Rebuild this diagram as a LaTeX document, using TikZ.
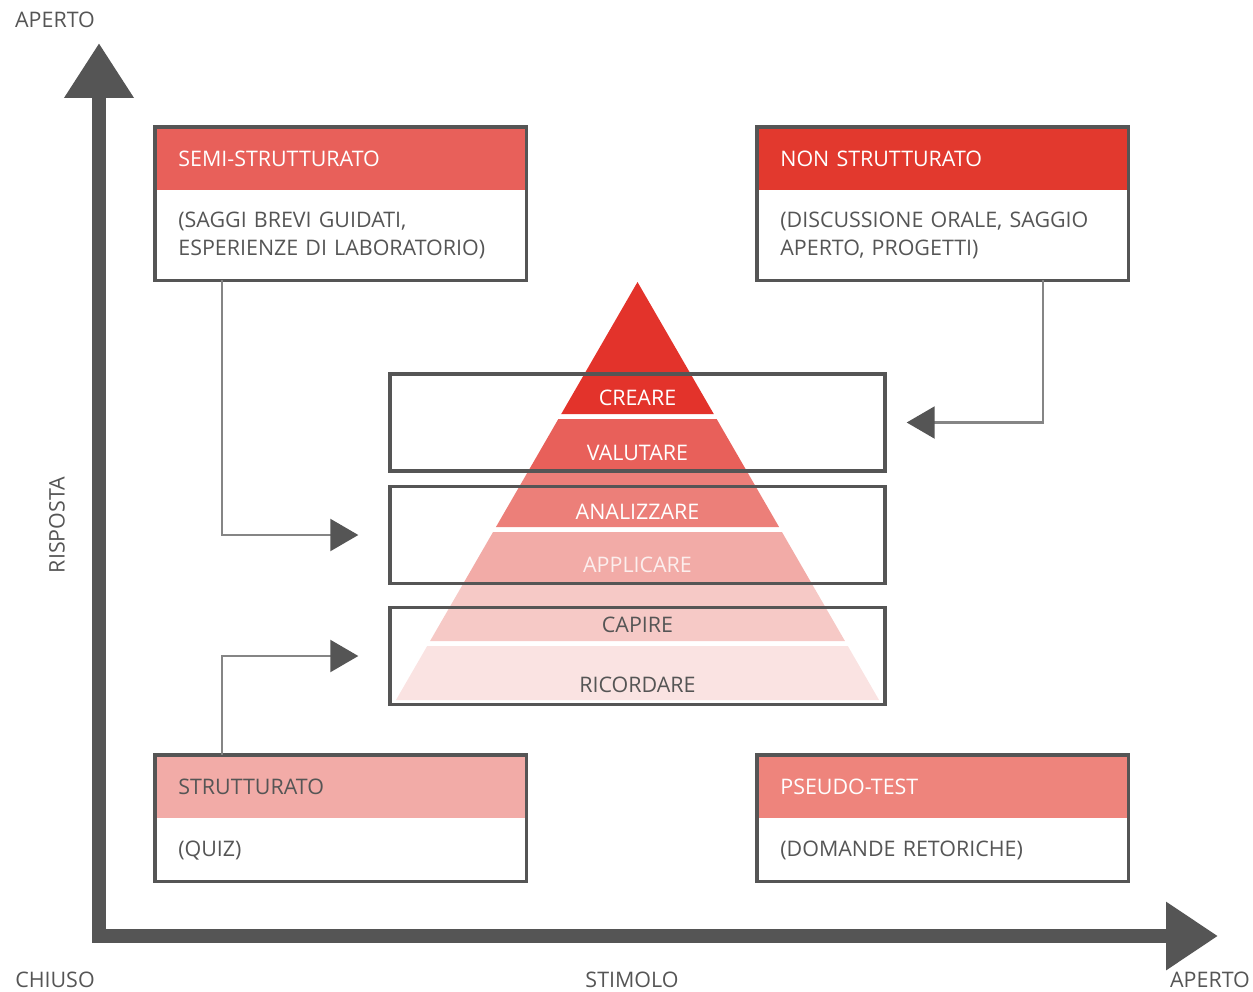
\documentclass[tikz,border=0pt]{standalone}
\usepackage{fontspec}
\setmainfont{Open Sans}
\usepackage{tikz}
\usetikzlibrary{arrows.meta, positioning, calc}

\definecolor{axisgray}{HTML}{555555}
\definecolor{linegray}{HTML}{858585}
\definecolor{textgray}{HTML}{555555}
\definecolor{creC}{HTML}{E3332B}
\definecolor{valC}{HTML}{E8605A}
\definecolor{anaC}{HTML}{EC7F79}
\definecolor{appC}{HTML}{F2ABA7}
\definecolor{capC}{HTML}{F6C9C6}
\definecolor{ricC}{HTML}{FAE3E2}
\definecolor{nonC}{HTML}{E2392E}
\definecolor{pseC}{HTML}{EE847C}

\begin{document}
\begin{tikzpicture}[x=0.02cm, y=-0.02cm, node distance=0pt,
    font=\fontsize{12.2}{16}\selectfont,
    head/.style={rectangle, anchor=north west, text width=6.5cm, inner xsep=0.46cm,
        inner ysep=0pt, minimum height=1.26cm, align=left, text=white},
    body/.style={rectangle, text width=6.5cm, inner xsep=0.46cm, inner ysep=0pt,
        align=left, text=textgray},
    frame/.style={draw=axisgray, line width=0.065cm},
    level/.style={rectangle, draw=axisgray, line width=0.07cm, minimum width=9.9cm,
        minimum height=1.94cm},
    conn/.style={draw=linegray, line width=0.045cm, shorten >=0.6cm,
        -{Triangle[length=0.56cm, width=0.64cm, fill=axisgray, color=axisgray]}},
    axis/.style={draw=axisgray, line width=0.28cm,
        {Triangle[length=1.1cm, width=1.32cm]}-{Triangle[length=1.04cm, width=1.3cm]}},
    lab/.style={text=textgray},
    lvllabel/.style={text=white}]

    \useasboundingbox (0,0) rectangle (1253,991);

    \coordinate (ytop) at (99,43);
    \coordinate (O) at (99,936);
    \coordinate (xend) at (1218,936);
    \draw[axis] (ytop) -- (O) -- (xend);

    \node[lab] (yopen) at (55,20) {APERTO};
    \node[lab, rotate=90] (yname) at (57,525) {RISPOSTA};
    \node[lab] (closed) at (55,980) {CHIUSO};
    \node[lab] (xname) at (632,980) {STIMOLO};
    \node[lab, anchor=east, inner xsep=1pt] (xopen) at (1252,980) {APERTO};

    \foreach \ya/\yb/\col in {282/414/creC, 419/472/valC, 472/527/anaC,
        532/583/appC, 583/641/capC, 646/700/ricC} {
        \pgfmathsetmacro\wa{0.5778*(\ya-282)}
        \pgfmathsetmacro\wb{0.5778*(\yb-282)}
        \fill[\col] (637.5-\wa,\ya) -- (637.5+\wa,\ya) -- (637.5+\wb,\yb)
            -- (637.5-\wb,\yb) -- cycle;
    }

    \node[lvllabel] (cre) at (637.5,398) {CREARE};
    \node[lvllabel] (val) at (637.5,453) {VALUTARE};
    \node[lvllabel] (ana) at (637.5,512) {ANALIZZARE};
    \node[lvllabel, text=white!80!appC] (app) at (637.5,565) {APPLICARE};
    \node[lab] (cap) at (637.5,625) {CAPIRE};
    \node[lab] (ric) at (637.5,685) {RICORDARE};

    \node[level] (lv1) at (637.5,422.5) {};
    \node[level] (lv2) at (637.5,535) {};
    \node[level] (lv3) at (637.5,656) {};

    \node[head, fill=valC] (semiH) at (155,127) {SEMI-STRUTTURATO};
    \node[body, minimum height=1.78cm, below=of semiH] (semiB)
        {(SAGGI BREVI GUIDATI,\\ESPERIENZE DI LABORATORIO)};
    \draw[frame] (semiH.north west) rectangle (semiB.south east);

    \node[head, fill=nonC] (nonH) at (757,127) {NON STRUTTURATO};
    \node[body, minimum height=1.78cm, below=of nonH] (nonB)
        {(DISCUSSIONE ORALE, SAGGIO\\APERTO, PROGETTI)};
    \draw[frame] (nonH.north west) rectangle (nonB.south east);

    \node[head, fill=appC, text=textgray] (strH) at (155,755) {STRUTTURATO};
    \node[body, minimum height=1.24cm, below=of strH] (strB) {(QUIZ)};
    \draw[frame] (strH.north west) rectangle (strB.south east);

    \node[head, fill=pseC] (pseH) at (757,755) {PSEUDO-TEST};
    \node[body, minimum height=1.24cm, below=of pseH] (pseB) {(DOMANDE RETORICHE)};
    \draw[frame] (pseH.north west) rectangle (pseB.south east);

    \draw[conn] ($(semiB.south west)+(67,0)$) |- (lv2.west);
    \draw[conn, shorten >=0.4cm] ($(nonB.south west)+(286,0)$) |- (lv1.east);
    \draw[conn] ($(strH.north west)+(67,0)$) |- (lv3.west);

\end{tikzpicture}
\end{document}
